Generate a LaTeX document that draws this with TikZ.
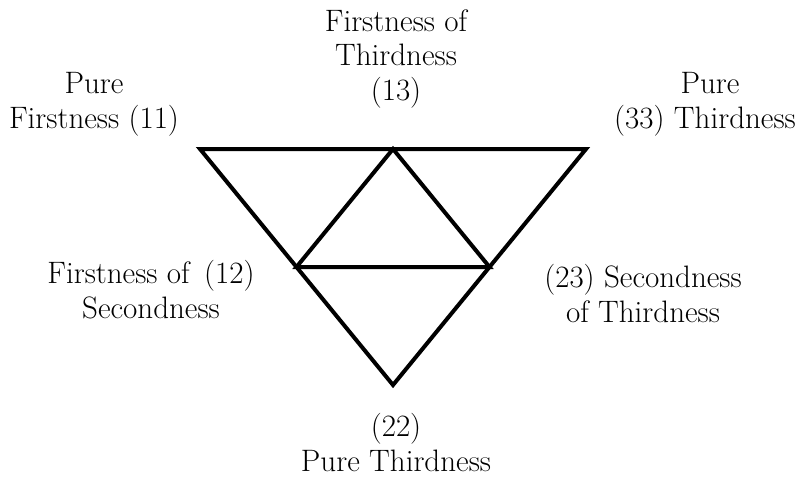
\documentclass[tikz,border=0pt]{standalone}
\usepackage{tikz}
\usetikzlibrary{calc}

\begin{document}
\begin{tikzpicture}[x=1pt, y=-1pt, every node/.style={font=\fontsize{31}{34.5}\selectfont, align=center, inner sep=0pt, anchor=base}]
        \useasboundingbox (0,0) rectangle (806,479);
        \coordinate (tl) at (200,149);
        \coordinate (tr) at (586,149);
        \coordinate (bt) at (393,385);
        \coordinate (tm) at ($(tl)!0.5!(tr)$);
        \coordinate (lm) at ($(tl)!0.5!(bt)$);
        \coordinate (rm) at ($(tr)!0.5!(bt)$);
        \draw[line width=4pt, line join=miter] (tl) -- (tr) -- (bt) -- cycle;
        \draw[line width=4pt, line join=miter] (tm) -- (lm) -- (rm) -- cycle;
        % labels, anchored at the baseline of their last line
        \node (p11) at (94,128) {Pure\\Firstness (11)};
        \node (p13) at (396,100) {Firstness of\\Thirdness\\(13)};
        \node (p33) at (705,128) {\hspace*{10pt}Pure\\(33) Thirdness};
        \node (p12) at (151,318) {Firstness of~\,(12)\\Secondness};
        \node (p23) at (643,322) {(23) Secondness\\of Thirdness};
        \node (p22) at (396,471) {(22)\\Pure Thirdness};
    \end{tikzpicture}
\end{document}
